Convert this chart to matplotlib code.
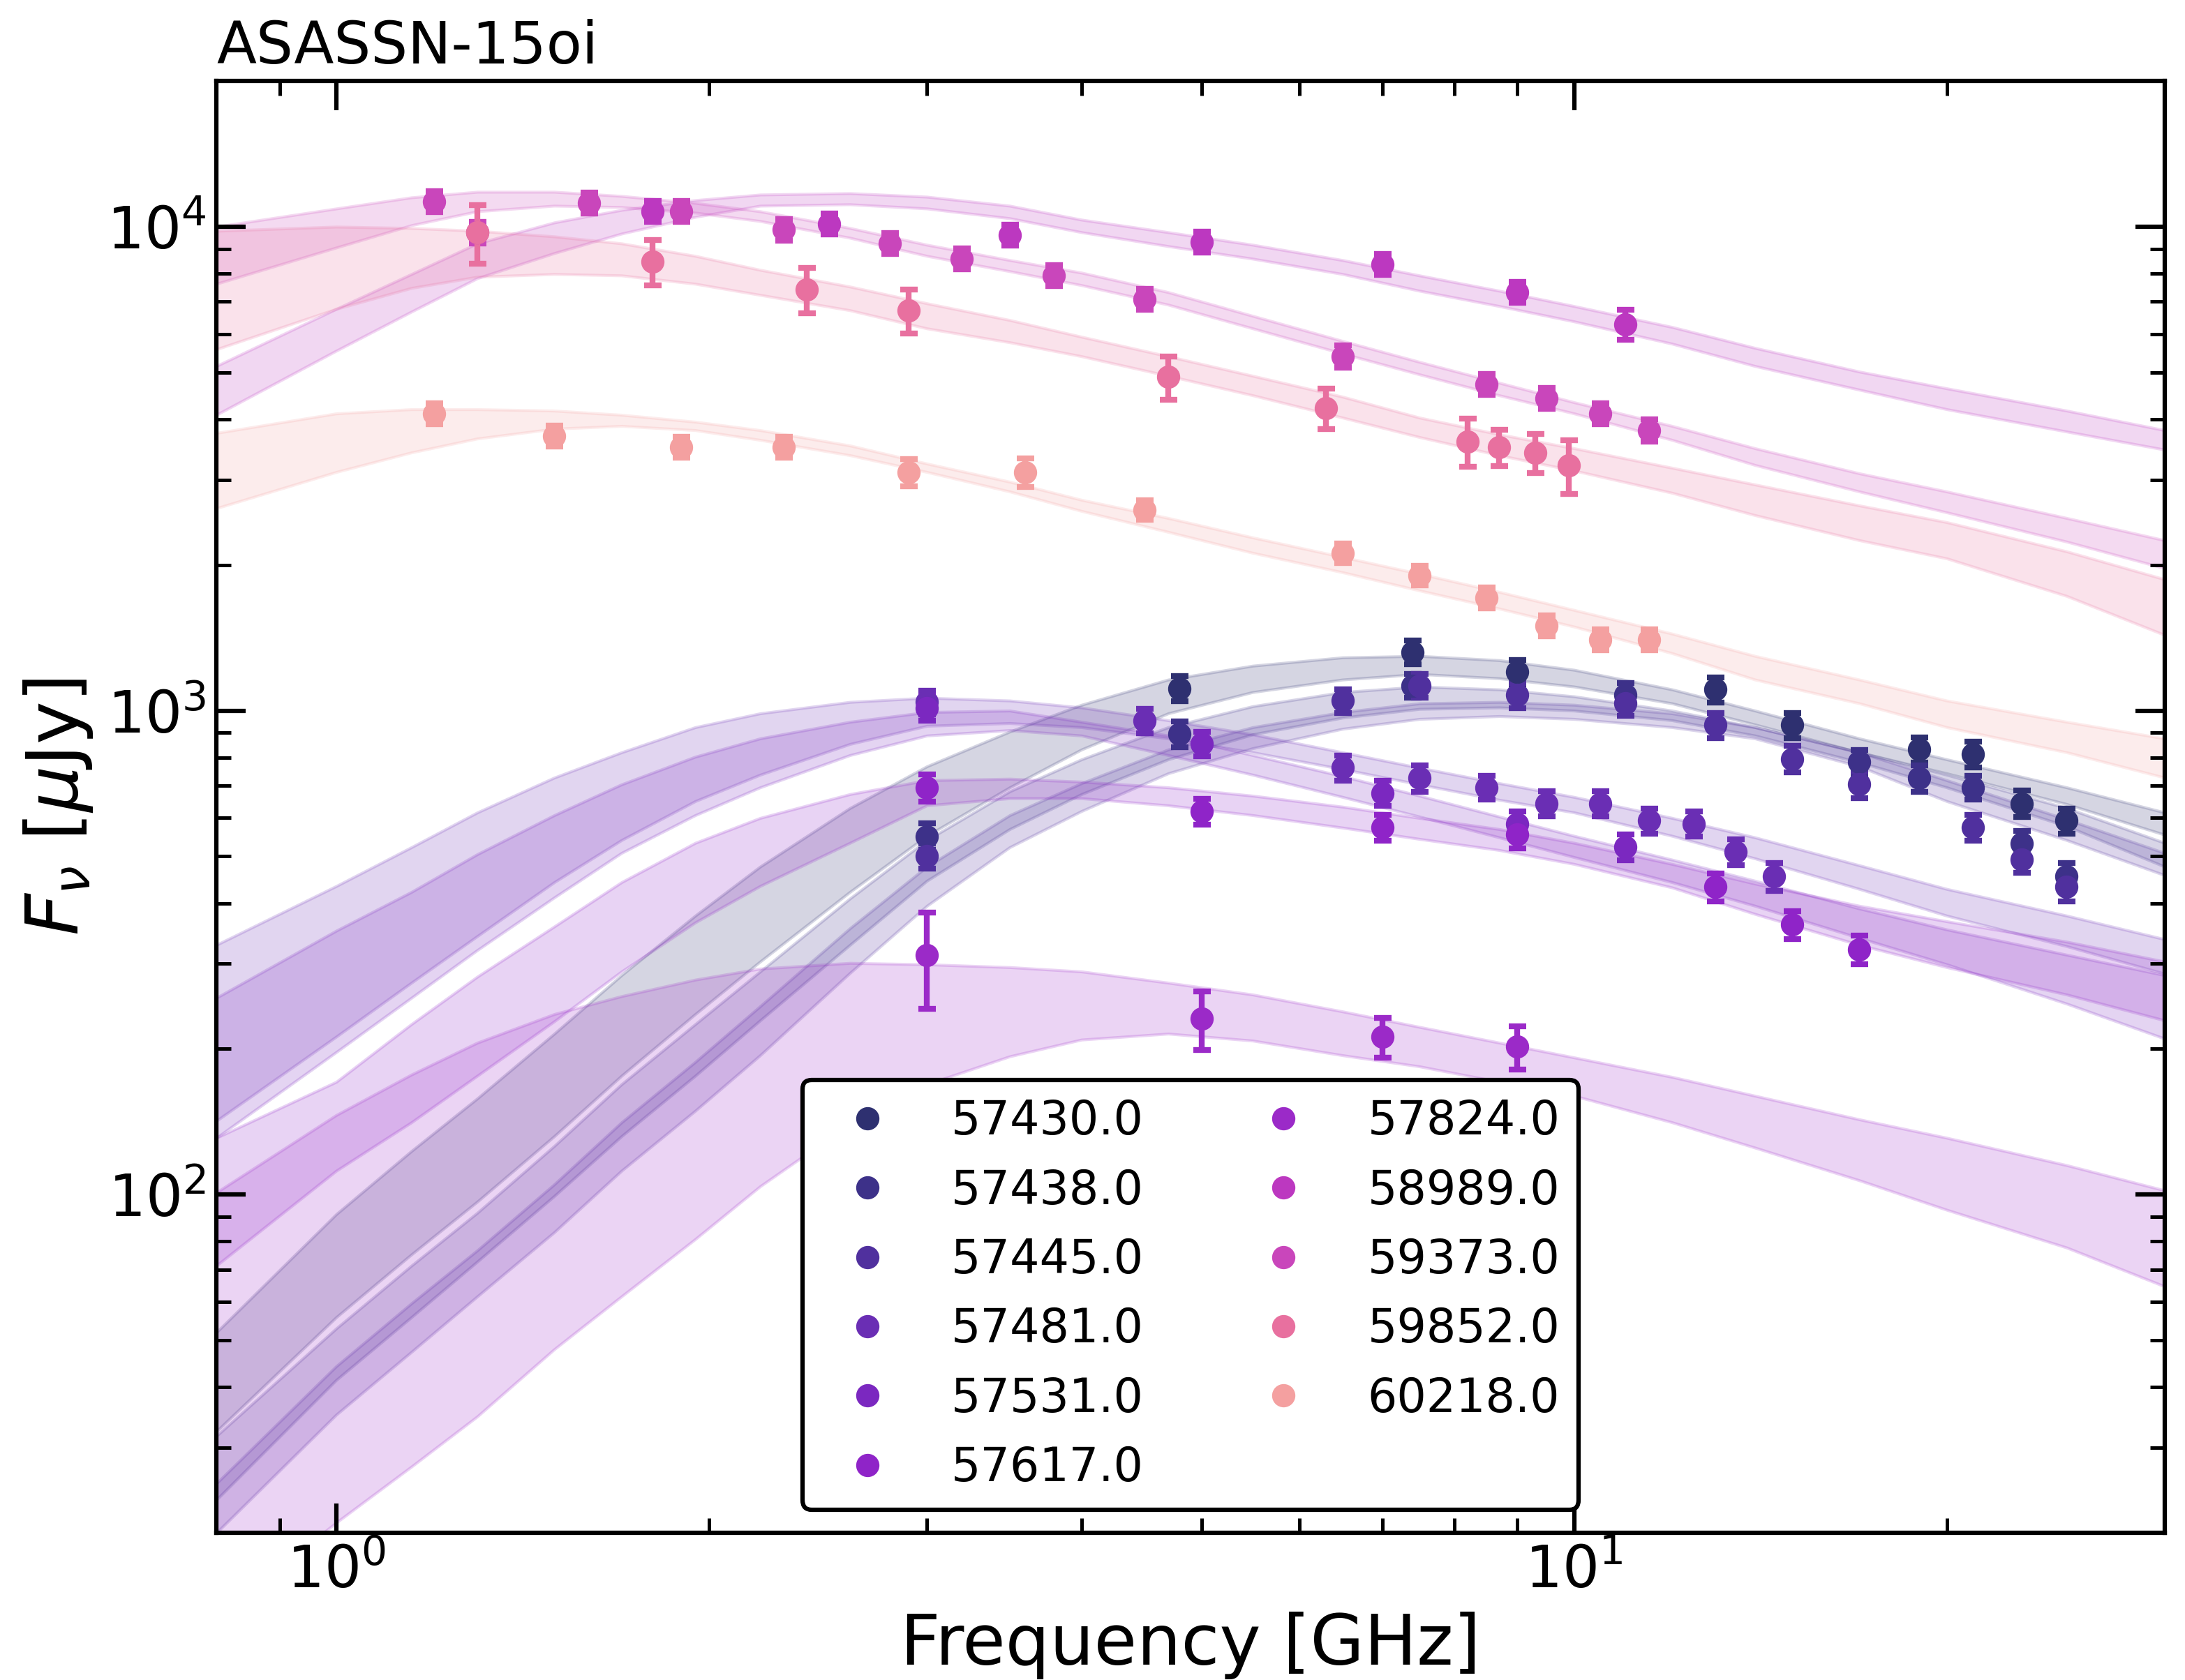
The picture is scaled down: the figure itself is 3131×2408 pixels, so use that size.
import numpy as np
import matplotlib.pyplot as plt

epochs = ["57430.0", "57438.0", "57445.0", "57481.0", "57531.0", "57617.0",
          "57824.0", "58989.0", "59373.0", "59852.0", "60218.0"]
colors = ["#2e3070", "#3d3189", "#50309e", "#6a2eb4", "#7b28c0", "#8f24c8",
          "#9b2ac8", "#bc38c0", "#c946bb", "#e8709f", "#f4a0a0"]

nu_model = [0.8, 1.0, 1.15, 1.3, 1.5, 1.7, 1.95, 2.2, 2.6, 3.0, 3.5, 4.0,
            4.7, 5.5, 6.5, 7.5, 8.7, 10, 12, 14, 17, 20, 25, 30]

lo_57430 = [32.4, 55.8, 75.2, 96.7, 132, 176, 236, 303, 422, 551, 694, 831,
            987, 1092, 1159, 1190, 1166, 1121, 1035, 936, 820, 742, 641, 554]
hi_57430 = [51.9, 91.1, 123, 158, 215, 284, 377, 476, 629, 767, 905, 1028,
            1159, 1238, 1288, 1297, 1271, 1214, 1106, 1000, 876, 793, 694, 616]
lo_57438 = [23.4, 41.4, 55.8, 72.7, 99.3, 132, 176, 229, 328, 445, 569, 672,
            793, 893, 967, 1008, 1015, 1000, 955, 888, 782, 694, 577, 476]
hi_57438 = [31.7, 52.9, 71.3, 91.7, 126, 169, 225, 289, 409, 540, 681, 793,
            924, 1021, 1092, 1121, 1106, 1070, 1000, 924, 820, 737, 629, 533]
lo_57445 = [20.0, 35.1, 47.3, 61.6, 83.6, 112, 149, 194, 287, 395, 522, 620,
            742, 836, 917, 961, 974, 961, 924, 876, 767, 650, 540, 457]
hi_57445 = [25.3, 44.2, 59.6, 76.7, 105, 141, 188, 245, 355, 476, 608, 708,
            831, 924, 993, 1035, 1042, 1028, 987, 924, 820, 718, 596, 508]
lo_57481 = [142, 212, 274, 342, 442, 540, 650, 737, 853, 930, 942, 924,
            876, 820, 757, 704, 654, 616, 551, 495, 428, 377, 326, 286]
hi_57481 = [328, 434, 522, 616, 727, 820, 924, 987, 1042, 1063, 1049, 1015,
            955, 893, 820, 762, 708, 663, 600, 547, 479, 428, 377, 337]
lo_57531 = [131, 197, 255, 320, 411, 508, 608, 694, 809, 888, 911, 888,
            809, 737, 663, 604, 547, 498, 442, 395, 339, 299, 248, 210]
hi_57531 = [255, 351, 422, 505, 608, 704, 803, 876, 948, 993, 1000, 948,
            888, 809, 732, 667, 604, 551, 492, 445, 390, 353, 313, 284]
lo_57617 = [71.3, 112, 141, 176, 228, 289, 365, 434, 533, 637, 659, 659,
            637, 608, 573, 543, 515, 482, 431, 380, 328, 295, 259, 229]
hi_57617 = [131, 171, 225, 282, 358, 442, 533, 600, 672, 718, 723, 713,
            694, 667, 633, 600, 569, 533, 482, 439, 395, 367, 333, 303]
lo_57824 = [13.4, 21.0, 27.4, 34.8, 47.9, 61.6, 80.9, 104, 140, 169, 193, 209,
            215, 208, 194, 184, 171, 160, 141, 125, 107, 93.0, 77.7, 64.6]
hi_57824 = [101, 146, 177, 206, 236, 257, 278, 293, 301, 299, 295, 289,
            274, 259, 239, 222, 206, 192, 175, 160, 143, 131, 115, 102]
lo_58989 = [4085, 5542, 6673, 7824, 8816, 9674, 10475, 11046, 11120, 10901, 10406, 9738,
            9113, 8585, 7981, 7371, 6852, 6370, 5729, 5152, 4603, 4195, 3772, 3461]
hi_58989 = [5152, 6762, 7981, 9235, 10201, 10828, 11343, 11648, 11725, 11530, 11046, 10337,
            9738, 9174, 8529, 7928, 7371, 6852, 6203, 5616, 5017, 4633, 4167, 3797]
lo_59373 = [7619, 9053, 10067, 10757, 11046, 10973, 10686, 10269, 9483, 8700, 8088, 7569,
            6898, 6162, 5469, 4951, 4482, 4112, 3625, 3217, 2836, 2568, 2234, 1969]
hi_59373 = [10000, 10901, 11494, 11803, 11803, 11571, 11194, 10757, 9934, 9174, 8529, 8034,
            7322, 6541, 5805, 5255, 4758, 4336, 3874, 3484, 3092, 2836, 2500, 2249]
lo_59852 = [5579, 6762, 7469, 7876, 7981, 7928, 7619, 7226, 6717, 6162, 5767, 5397,
            4918, 4482, 4031, 3674, 3370, 3133, 2818, 2534, 2249, 2063, 1725, 1433]
hi_59852 = [9803, 10000, 9934, 9803, 9546, 9235, 8700, 8142, 7519, 6944, 6412, 5922,
            5397, 4918, 4453, 4031, 3723, 3484, 3175, 2932, 2654, 2451, 2133, 1868]
lo_60218 = [2619, 3112, 3415, 3649, 3823, 3874, 3797, 3625, 3370, 3112, 2836, 2585,
            2340, 2118, 1931, 1771, 1625, 1491, 1314, 1159, 1035, 924, 820, 727]
hi_60218 = [3747, 4112, 4195, 4195, 4167, 4085, 3952, 3797, 3530, 3239, 2971, 2726,
            2500, 2279, 2077, 1918, 1759, 1614, 1442, 1297, 1159, 1049, 948, 876]

# observed points: frequency (GHz), flux (uJy), error (uJy)
nu_57430 = [4.8, 7.4, 9.0, 13.0, 15.0, 19.0, 21.0, 23.0, 25.0]
f_57430 = [1112, 1321, 1204, 1105, 933, 831, 814, 643, 592]
e_57430 = [65, 75, 70, 65, 55, 50, 50, 40, 35]

nu_57438 = [3.0, 4.8, 7.4, 11.0, 17.0, 19.0, 21.0, 23.0, 25.0]
f_57438 = [550, 894, 1127, 1076, 784, 725, 694, 532, 454]
e_57438 = [35, 55, 65, 65, 45, 45, 40, 32, 30]

nu_57445 = [3.0, 6.5, 7.5, 9.0, 11.0, 13.0, 15.0, 17.0, 21.0, 23.0, 25.0]
f_57445 = [501, 1048, 1127, 1076, 1034, 933, 795, 704, 573, 492, 432]
e_57445 = [30, 60, 65, 65, 60, 55, 50, 45, 35, 30, 28]

nu_57481 = [3.0, 4.5, 6.5, 7.5, 8.5, 9.5, 10.5, 11.5, 12.5, 13.5, 14.5]
f_57481 = [1041, 954, 762, 725, 694, 643, 643, 592, 584, 511, 454]
e_57481 = [60, 55, 45, 45, 40, 38, 38, 35, 35, 32, 30]

nu_57531 = [3.0, 5.0, 7.0, 9.0, 11.0]
f_57531 = [1013, 855, 676, 584, 523]
e_57531 = [60, 50, 40, 35, 32]

nu_57617 = [3.0, 5.0, 7.0, 9.0, 13.0, 15.0, 17.0]
f_57617 = [694, 620, 573, 554, 432, 361, 321]
e_57617 = [45, 38, 35, 35, 28, 24, 22]

nu_57824 = [3.0, 5.0, 7.0, 9.0]
f_57824 = [312, 231, 212, 202]
e_57824 = [70, 32, 20, 21]

nu_58989 = [1.8, 2.5, 3.5, 5.0, 7.0, 9.0, 11.0]
f_58989 = [10757, 10134, 9614, 9297, 8360, 7322, 6286]
e_58989 = [540, 500, 480, 460, 420, 370, 450]

nu_59373 = [1.2, 1.3, 1.6, 1.9, 2.3, 2.8, 3.2, 3.8, 4.5, 6.5, 8.5, 9.5, 10.5, 11.5]
f_59373 = [11268, 9738, 11194, 10757, 9868, 9235, 8585, 7928, 7083, 5397, 4727, 4423, 4112, 3797]
e_59373 = [560, 500, 560, 540, 500, 460, 430, 400, 360, 280, 240, 220, 210, 200]

nu_59852 = [1.3, 1.8, 2.4, 2.9, 4.7, 6.3, 8.2, 8.7, 9.3, 9.9]
f_59852 = [9738, 8470, 7418, 6716, 4890, 4221, 3600, 3505, 3413, 3214]
e_59852 = [1350, 900, 800, 700, 500, 400, 410, 300, 315, 410]

nu_60218 = [1.2, 1.5, 1.9, 2.3, 2.9, 3.6, 4.5, 6.5, 7.5, 8.5, 9.5, 10.5, 11.5]
f_60218 = [4110, 3696, 3505, 3505, 3110, 3110, 2600, 2116, 1903, 1712, 1499, 1403, 1403]
e_60218 = [200, 180, 170, 170, 200, 210, 120, 100, 90, 85, 75, 70, 70]

lows = [lo_57430, lo_57438, lo_57445, lo_57481, lo_57531, lo_57617, lo_57824,
        lo_58989, lo_59373, lo_59852, lo_60218]
highs = [hi_57430, hi_57438, hi_57445, hi_57481, hi_57531, hi_57617, hi_57824,
         hi_58989, hi_59373, hi_59852, hi_60218]
nus = [nu_57430, nu_57438, nu_57445, nu_57481, nu_57531, nu_57617, nu_57824,
       nu_58989, nu_59373, nu_59852, nu_60218]
fluxes = [f_57430, f_57438, f_57445, f_57481, f_57531, f_57617, f_57824,
          f_58989, f_59373, f_59852, f_60218]
errs = [e_57430, e_57438, e_57445, e_57481, e_57531, e_57617, e_57824,
        e_58989, e_59373, e_59852, e_60218]

fig, ax = plt.subplots(figsize=(3131/300, 2408/300), dpi=300)
fig.subplots_adjust(left=0.099, right=0.9907, bottom=0.0876, top=0.9518)

for i in range(len(epochs)):
    ax.fill_between(nu_model, lows[i], highs[i], color=colors[i], alpha=0.2)

for i in range(len(epochs)):
    ax.errorbar(nus[i], fluxes[i], yerr=errs[i], fmt='o', color=colors[i],
                ms=7, capsize=3, elinewidth=2, capthick=2)
    ax.plot([], [], 'o', color=colors[i], ms=7, label=epochs[i])

ax.set_xscale('log')
ax.set_yscale('log')
ax.set_xlim(0.8, 30)
ax.set_ylim(20, 20000)

ax.set_xlabel("Frequency [GHz]", fontsize=24)
ax.set_ylabel(r"$F_{\nu}$ [$\mu$Jy]", fontsize=25)
ax.set_title("ASASSN-15oi", loc='left', fontsize=20)

ax.tick_params(which='both', direction='in', top=True, right=True, labelsize=20)
ax.tick_params(which='major', length=10, width=1.5)
ax.tick_params(which='minor', length=5, width=1.2)
for s in ax.spines.values():
    s.set_linewidth(1.5)

leg = ax.legend(loc='lower center', ncol=2, fontsize=16, framealpha=1, edgecolor='black')
leg.get_frame().set_linewidth(1.5)

plt.savefig("out.png", dpi=300)
